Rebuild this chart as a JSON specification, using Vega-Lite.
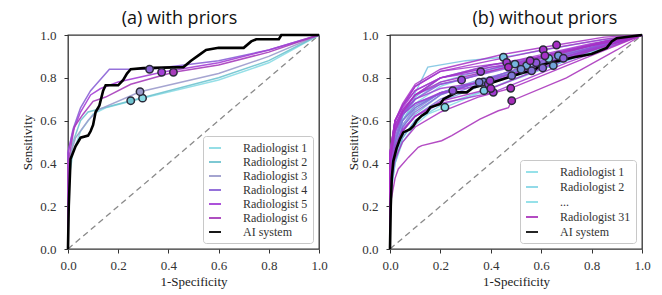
{
"$schema": "https://vega.github.io/schema/vega-lite/v6.json",
"background": "white",
"padding": {"left": 21, "top": 9, "right": 5, "bottom": 5},
"config": {
 "view": {"stroke": "#333", "strokeWidth": 1.3},
 "axis": {"grid": false, "domain": false, "tickColor": "#333", "tickSize": 4, "tickWidth": 1, "labelFont": "Liberation Serif", "labelFontSize": 13, "labelColor": "#333", "labelFlush": false, "labelOverlap": false, "titleFont": "Liberation Serif", "titleFontSize": 13, "titleFontWeight": "normal", "titleColor": "#222"},
 "axisX": {"labelPadding": 6, "titlePadding": 3},
 "axisY": {"labelPadding": 8},
 "title": {"font": "Open Sans", "fontSize": 18, "fontWeight": "normal", "color": "#111", "offset": 1}
},
"datasets": {
 "diag": [{"x":0,"y":0},{"x":1,"y":1}],
 "ca": [
  {"s":"Radiologist 1","x":0,"y":0},{"s":"Radiologist 1","x":0,"y":0.3},{"s":"Radiologist 1","x":0.02,"y":0.45},{"s":"Radiologist 1","x":0.05,"y":0.55},{"s":"Radiologist 1","x":0.1,"y":0.63},{"s":"Radiologist 1","x":0.15,"y":0.66},{"s":"Radiologist 1","x":0.3,"y":0.705},{"s":"Radiologist 1","x":0.6,"y":0.79},{"s":"Radiologist 1","x":0.8,"y":0.87},{"s":"Radiologist 1","x":1,"y":1},
  {"s":"Radiologist 2","x":0,"y":0},{"s":"Radiologist 2","x":0,"y":0.35},{"s":"Radiologist 2","x":0.02,"y":0.5},{"s":"Radiologist 2","x":0.05,"y":0.6},{"s":"Radiologist 2","x":0.08,"y":0.64},{"s":"Radiologist 2","x":0.25,"y":0.693},{"s":"Radiologist 2","x":0.6,"y":0.8},{"s":"Radiologist 2","x":0.8,"y":0.88},{"s":"Radiologist 2","x":1,"y":1},
  {"s":"Radiologist 3","x":0,"y":0},{"s":"Radiologist 3","x":0,"y":0.4},{"s":"Radiologist 3","x":0.03,"y":0.52},{"s":"Radiologist 3","x":0.08,"y":0.6},{"s":"Radiologist 3","x":0.12,"y":0.65},{"s":"Radiologist 3","x":0.287,"y":0.735},{"s":"Radiologist 3","x":0.6,"y":0.82},{"s":"Radiologist 3","x":0.8,"y":0.9},{"s":"Radiologist 3","x":1,"y":1},
  {"s":"Radiologist 4","x":0,"y":0},{"s":"Radiologist 4","x":0,"y":0.45},{"s":"Radiologist 4","x":0.02,"y":0.56},{"s":"Radiologist 4","x":0.05,"y":0.66},{"s":"Radiologist 4","x":0.09,"y":0.74},{"s":"Radiologist 4","x":0.165,"y":0.84},{"s":"Radiologist 4","x":0.325,"y":0.84},{"s":"Radiologist 4","x":0.6,"y":0.88},{"s":"Radiologist 4","x":0.8,"y":0.93},{"s":"Radiologist 4","x":1,"y":1},
  {"s":"Radiologist 5","x":0,"y":0},{"s":"Radiologist 5","x":0,"y":0.45},{"s":"Radiologist 5","x":0.02,"y":0.55},{"s":"Radiologist 5","x":0.05,"y":0.64},{"s":"Radiologist 5","x":0.09,"y":0.72},{"s":"Radiologist 5","x":0.13,"y":0.75},{"s":"Radiologist 5","x":0.2,"y":0.78},{"s":"Radiologist 5","x":0.373,"y":0.826},{"s":"Radiologist 5","x":0.6,"y":0.87},{"s":"Radiologist 5","x":0.8,"y":0.93},{"s":"Radiologist 5","x":1,"y":1},
  {"s":"Radiologist 6","x":0,"y":0},{"s":"Radiologist 6","x":0,"y":0.4},{"s":"Radiologist 6","x":0.025,"y":0.57},{"s":"Radiologist 6","x":0.06,"y":0.63},{"s":"Radiologist 6","x":0.1,"y":0.69},{"s":"Radiologist 6","x":0.15,"y":0.71},{"s":"Radiologist 6","x":0.25,"y":0.77},{"s":"Radiologist 6","x":0.42,"y":0.826},{"s":"Radiologist 6","x":0.6,"y":0.86},{"s":"Radiologist 6","x":0.8,"y":0.92},{"s":"Radiologist 6","x":1,"y":1},
  {"s":"AI system","x":0,"y":0},{"s":"AI system","x":0.003,"y":0.2},{"s":"AI system","x":0.01,"y":0.42},{"s":"AI system","x":0.02,"y":0.45},{"s":"AI system","x":0.03,"y":0.48},{"s":"AI system","x":0.05,"y":0.52},{"s":"AI system","x":0.08,"y":0.53},{"s":"AI system","x":0.09,"y":0.55},{"s":"AI system","x":0.1,"y":0.58},{"s":"AI system","x":0.11,"y":0.64},{"s":"AI system","x":0.125,"y":0.67},{"s":"AI system","x":0.14,"y":0.74},{"s":"AI system","x":0.15,"y":0.765},{"s":"AI system","x":0.2,"y":0.765},{"s":"AI system","x":0.22,"y":0.79},{"s":"AI system","x":0.235,"y":0.82},{"s":"AI system","x":0.25,"y":0.84},{"s":"AI system","x":0.3,"y":0.845},{"s":"AI system","x":0.46,"y":0.85},{"s":"AI system","x":0.49,"y":0.88},{"s":"AI system","x":0.52,"y":0.905},{"s":"AI system","x":0.55,"y":0.93},{"s":"AI system","x":0.6,"y":0.94},{"s":"AI system","x":0.7,"y":0.94},{"s":"AI system","x":0.73,"y":0.97},{"s":"AI system","x":0.75,"y":0.98},{"s":"AI system","x":0.84,"y":0.98},{"s":"AI system","x":0.85,"y":1},{"s":"AI system","x":1,"y":1}
 ],
 "pa": [
  {"s":"Radiologist 1","x":0.297,"y":0.705},{"s":"Radiologist 2","x":0.25,"y":0.693},{"s":"Radiologist 3","x":0.287,"y":0.735},{"s":"Radiologist 4","x":0.325,"y":0.84},{"s":"Radiologist 5","x":0.373,"y":0.826},{"s":"Radiologist 6","x":0.42,"y":0.826}
 ],
 "cb": [
  {"s":"Radiologist 1","x":0,"y":0},{"s":"Radiologist 1","x":0,"y":0.22},{"s":"Radiologist 1","x":0.02,"y":0.4},{"s":"Radiologist 1","x":0.05,"y":0.5},{"s":"Radiologist 1","x":0.1,"y":0.58},{"s":"Radiologist 1","x":0.15,"y":0.63},{"s":"Radiologist 1","x":0.218,"y":0.662},{"s":"Radiologist 1","x":0.5,"y":0.8},{"s":"Radiologist 1","x":0.8,"y":0.92},{"s":"Radiologist 1","x":1,"y":1},
  {"s":"Radiologist 2","x":0,"y":0},{"s":"Radiologist 2","x":0,"y":0.3},{"s":"Radiologist 2","x":0.02,"y":0.5},{"s":"Radiologist 2","x":0.05,"y":0.6},{"s":"Radiologist 2","x":0.1,"y":0.68},{"s":"Radiologist 2","x":0.2,"y":0.76},{"s":"Radiologist 2","x":0.4,"y":0.84},{"s":"Radiologist 2","x":0.63,"y":0.89},{"s":"Radiologist 2","x":0.85,"y":0.96},{"s":"Radiologist 2","x":1,"y":1},
  {"s":"Radiologist 3","x":0,"y":0},{"s":"Radiologist 3","x":0,"y":0.28},{"s":"Radiologist 3","x":0.02,"y":0.42},{"s":"Radiologist 3","x":0.05,"y":0.52},{"s":"Radiologist 3","x":0.1,"y":0.6},{"s":"Radiologist 3","x":0.2,"y":0.67},{"s":"Radiologist 3","x":0.373,"y":0.74},{"s":"Radiologist 3","x":0.7,"y":0.88},{"s":"Radiologist 3","x":1,"y":1},
  {"s":"Radiologist 4","x":0,"y":0},{"s":"Radiologist 4","x":0,"y":0.35},{"s":"Radiologist 4","x":0.02,"y":0.5},{"s":"Radiologist 4","x":0.05,"y":0.62},{"s":"Radiologist 4","x":0.1,"y":0.73},{"s":"Radiologist 4","x":0.15,"y":0.85},{"s":"Radiologist 4","x":0.3,"y":0.88},{"s":"Radiologist 4","x":0.45,"y":0.896},{"s":"Radiologist 4","x":0.8,"y":0.97},{"s":"Radiologist 4","x":1,"y":1},
  {"s":"Radiologist 5","x":0,"y":0},{"s":"Radiologist 5","x":0,"y":0.3},{"s":"Radiologist 5","x":0.02,"y":0.48},{"s":"Radiologist 5","x":0.05,"y":0.6},{"s":"Radiologist 5","x":0.1,"y":0.7},{"s":"Radiologist 5","x":0.2,"y":0.78},{"s":"Radiologist 5","x":0.35,"y":0.83},{"s":"Radiologist 5","x":0.496,"y":0.864},{"s":"Radiologist 5","x":0.8,"y":0.95},{"s":"Radiologist 5","x":1,"y":1},
  {"s":"Radiologist 6","x":0,"y":0},{"s":"Radiologist 6","x":0,"y":0.26},{"s":"Radiologist 6","x":0.02,"y":0.43},{"s":"Radiologist 6","x":0.05,"y":0.55},{"s":"Radiologist 6","x":0.1,"y":0.63},{"s":"Radiologist 6","x":0.2,"y":0.72},{"s":"Radiologist 6","x":0.4,"y":0.8},{"s":"Radiologist 6","x":0.542,"y":0.857},{"s":"Radiologist 6","x":0.8,"y":0.94},{"s":"Radiologist 6","x":1,"y":1},
  {"s":"Radiologist 7","x":0,"y":0},{"s":"Radiologist 7","x":0,"y":0.24},{"s":"Radiologist 7","x":0.02,"y":0.4},{"s":"Radiologist 7","x":0.05,"y":0.52},{"s":"Radiologist 7","x":0.1,"y":0.6},{"s":"Radiologist 7","x":0.2,"y":0.69},{"s":"Radiologist 7","x":0.4,"y":0.78},{"s":"Radiologist 7","x":0.648,"y":0.857},{"s":"Radiologist 7","x":0.85,"y":0.95},{"s":"Radiologist 7","x":1,"y":1},
  {"s":"Radiologist 8","x":0,"y":0},{"s":"Radiologist 8","x":0,"y":0.3},{"s":"Radiologist 8","x":0.02,"y":0.5},{"s":"Radiologist 8","x":0.05,"y":0.62},{"s":"Radiologist 8","x":0.1,"y":0.71},{"s":"Radiologist 8","x":0.2,"y":0.8},{"s":"Radiologist 8","x":0.4,"y":0.86},{"s":"Radiologist 8","x":0.668,"y":0.903},{"s":"Radiologist 8","x":0.85,"y":0.97},{"s":"Radiologist 8","x":1,"y":1},
  {"s":"Radiologist 9","x":0,"y":0},{"s":"Radiologist 9","x":0,"y":0.3},{"s":"Radiologist 9","x":0.02,"y":0.46},{"s":"Radiologist 9","x":0.05,"y":0.57},{"s":"Radiologist 9","x":0.1,"y":0.65},{"s":"Radiologist 9","x":0.2,"y":0.73},{"s":"Radiologist 9","x":0.35,"y":0.79},{"s":"Radiologist 9","x":0.52,"y":0.84},{"s":"Radiologist 9","x":0.8,"y":0.94},{"s":"Radiologist 9","x":1,"y":1},
  {"s":"Radiologist 10","x":0,"y":0},{"s":"Radiologist 10","x":0,"y":0.3},{"s":"Radiologist 10","x":0.02,"y":0.47},{"s":"Radiologist 10","x":0.05,"y":0.58},{"s":"Radiologist 10","x":0.1,"y":0.66},{"s":"Radiologist 10","x":0.2,"y":0.73},{"s":"Radiologist 10","x":0.37,"y":0.78},{"s":"Radiologist 10","x":0.7,"y":0.9},{"s":"Radiologist 10","x":1,"y":1},
  {"s":"Radiologist 11","x":0,"y":0},{"s":"Radiologist 11","x":0,"y":0.33},{"s":"Radiologist 11","x":0.02,"y":0.5},{"s":"Radiologist 11","x":0.05,"y":0.6},{"s":"Radiologist 11","x":0.1,"y":0.67},{"s":"Radiologist 11","x":0.2,"y":0.73},{"s":"Radiologist 11","x":0.354,"y":0.779},{"s":"Radiologist 11","x":0.7,"y":0.9},{"s":"Radiologist 11","x":1,"y":1},
  {"s":"Radiologist 12","x":0,"y":0},{"s":"Radiologist 12","x":0,"y":0.3},{"s":"Radiologist 12","x":0.02,"y":0.45},{"s":"Radiologist 12","x":0.05,"y":0.55},{"s":"Radiologist 12","x":0.1,"y":0.62},{"s":"Radiologist 12","x":0.2,"y":0.7},{"s":"Radiologist 12","x":0.35,"y":0.77},{"s":"Radiologist 12","x":0.483,"y":0.81},{"s":"Radiologist 12","x":0.8,"y":0.93},{"s":"Radiologist 12","x":1,"y":1},
  {"s":"Radiologist 13","x":0,"y":0},{"s":"Radiologist 13","x":0,"y":0.32},{"s":"Radiologist 13","x":0.02,"y":0.5},{"s":"Radiologist 13","x":0.05,"y":0.6},{"s":"Radiologist 13","x":0.1,"y":0.66},{"s":"Radiologist 13","x":0.2,"y":0.73},{"s":"Radiologist 13","x":0.4,"y":0.8},{"s":"Radiologist 13","x":0.562,"y":0.833},{"s":"Radiologist 13","x":0.85,"y":0.95},{"s":"Radiologist 13","x":1,"y":1},
  {"s":"Radiologist 14","x":0,"y":0},{"s":"Radiologist 14","x":0,"y":0.3},{"s":"Radiologist 14","x":0.02,"y":0.46},{"s":"Radiologist 14","x":0.05,"y":0.57},{"s":"Radiologist 14","x":0.1,"y":0.64},{"s":"Radiologist 14","x":0.2,"y":0.72},{"s":"Radiologist 14","x":0.4,"y":0.8},{"s":"Radiologist 14","x":0.606,"y":0.846},{"s":"Radiologist 14","x":0.85,"y":0.95},{"s":"Radiologist 14","x":1,"y":1},
  {"s":"Radiologist 15","x":0,"y":0},{"s":"Radiologist 15","x":0,"y":0.35},{"s":"Radiologist 15","x":0.02,"y":0.52},{"s":"Radiologist 15","x":0.05,"y":0.63},{"s":"Radiologist 15","x":0.1,"y":0.7},{"s":"Radiologist 15","x":0.2,"y":0.77},{"s":"Radiologist 15","x":0.45,"y":0.84},{"s":"Radiologist 15","x":0.688,"y":0.891},{"s":"Radiologist 15","x":0.85,"y":0.96},{"s":"Radiologist 15","x":1,"y":1},
  {"s":"Radiologist 16","x":0,"y":0},{"s":"Radiologist 16","x":0,"y":0.38},{"s":"Radiologist 16","x":0.02,"y":0.54},{"s":"Radiologist 16","x":0.05,"y":0.64},{"s":"Radiologist 16","x":0.1,"y":0.72},{"s":"Radiologist 16","x":0.2,"y":0.8},{"s":"Radiologist 16","x":0.4,"y":0.85},{"s":"Radiologist 16","x":0.58,"y":0.87},{"s":"Radiologist 16","x":0.85,"y":0.96},{"s":"Radiologist 16","x":1,"y":1},
  {"s":"Radiologist 17","x":0,"y":0},{"s":"Radiologist 17","x":0,"y":0.4},{"s":"Radiologist 17","x":0.02,"y":0.55},{"s":"Radiologist 17","x":0.05,"y":0.63},{"s":"Radiologist 17","x":0.1,"y":0.68},{"s":"Radiologist 17","x":0.2,"y":0.725},{"s":"Radiologist 17","x":0.249,"y":0.74},{"s":"Radiologist 17","x":0.6,"y":0.88},{"s":"Radiologist 17","x":1,"y":1},
  {"s":"Radiologist 18","x":0,"y":0},{"s":"Radiologist 18","x":0,"y":0.42},{"s":"Radiologist 18","x":0.02,"y":0.58},{"s":"Radiologist 18","x":0.05,"y":0.65},{"s":"Radiologist 18","x":0.1,"y":0.72},{"s":"Radiologist 18","x":0.2,"y":0.77},{"s":"Radiologist 18","x":0.284,"y":0.79},{"s":"Radiologist 18","x":0.6,"y":0.9},{"s":"Radiologist 18","x":1,"y":1},
  {"s":"Radiologist 19","x":0,"y":0},{"s":"Radiologist 19","x":0,"y":0.45},{"s":"Radiologist 19","x":0.02,"y":0.6},{"s":"Radiologist 19","x":0.05,"y":0.67},{"s":"Radiologist 19","x":0.1,"y":0.74},{"s":"Radiologist 19","x":0.2,"y":0.8},{"s":"Radiologist 19","x":0.36,"y":0.829},{"s":"Radiologist 19","x":0.7,"y":0.93},{"s":"Radiologist 19","x":1,"y":1},
  {"s":"Radiologist 20","x":0,"y":0},{"s":"Radiologist 20","x":0,"y":0.4},{"s":"Radiologist 20","x":0.02,"y":0.55},{"s":"Radiologist 20","x":0.05,"y":0.63},{"s":"Radiologist 20","x":0.1,"y":0.68},{"s":"Radiologist 20","x":0.2,"y":0.73},{"s":"Radiologist 20","x":0.39,"y":0.771},{"s":"Radiologist 20","x":0.7,"y":0.9},{"s":"Radiologist 20","x":1,"y":1},
  {"s":"Radiologist 21","x":0,"y":0},{"s":"Radiologist 21","x":0,"y":0.42},{"s":"Radiologist 21","x":0.02,"y":0.57},{"s":"Radiologist 21","x":0.05,"y":0.64},{"s":"Radiologist 21","x":0.1,"y":0.7},{"s":"Radiologist 21","x":0.2,"y":0.75},{"s":"Radiologist 21","x":0.397,"y":0.786},{"s":"Radiologist 21","x":0.7,"y":0.9},{"s":"Radiologist 21","x":1,"y":1},
  {"s":"Radiologist 22","x":0,"y":0},{"s":"Radiologist 22","x":0,"y":0.35},{"s":"Radiologist 22","x":0.02,"y":0.48},{"s":"Radiologist 22","x":0.05,"y":0.56},{"s":"Radiologist 22","x":0.1,"y":0.62},{"s":"Radiologist 22","x":0.2,"y":0.68},{"s":"Radiologist 22","x":0.41,"y":0.732},{"s":"Radiologist 22","x":0.7,"y":0.87},{"s":"Radiologist 22","x":1,"y":1},
  {"s":"Radiologist 23","x":0,"y":0},{"s":"Radiologist 23","x":0,"y":0.45},{"s":"Radiologist 23","x":0.02,"y":0.6},{"s":"Radiologist 23","x":0.05,"y":0.67},{"s":"Radiologist 23","x":0.1,"y":0.76},{"s":"Radiologist 23","x":0.2,"y":0.83},{"s":"Radiologist 23","x":0.463,"y":0.872},{"s":"Radiologist 23","x":0.8,"y":0.96},{"s":"Radiologist 23","x":1,"y":1},
  {"s":"Radiologist 24","x":0,"y":0},{"s":"Radiologist 24","x":0,"y":0.44},{"s":"Radiologist 24","x":0.02,"y":0.6},{"s":"Radiologist 24","x":0.05,"y":0.66},{"s":"Radiologist 24","x":0.1,"y":0.74},{"s":"Radiologist 24","x":0.2,"y":0.8},{"s":"Radiologist 24","x":0.4,"y":0.85},{"s":"Radiologist 24","x":0.556,"y":0.88},{"s":"Radiologist 24","x":0.85,"y":0.97},{"s":"Radiologist 24","x":1,"y":1},
  {"s":"Radiologist 25","x":0,"y":0},{"s":"Radiologist 25","x":0,"y":0.45},{"s":"Radiologist 25","x":0.02,"y":0.6},{"s":"Radiologist 25","x":0.05,"y":0.67},{"s":"Radiologist 25","x":0.1,"y":0.76},{"s":"Radiologist 25","x":0.2,"y":0.83},{"s":"Radiologist 25","x":0.4,"y":0.88},{"s":"Radiologist 25","x":0.608,"y":0.931},{"s":"Radiologist 25","x":0.85,"y":0.98},{"s":"Radiologist 25","x":1,"y":1},
  {"s":"Radiologist 26","x":0,"y":0},{"s":"Radiologist 26","x":0,"y":0.4},{"s":"Radiologist 26","x":0.02,"y":0.58},{"s":"Radiologist 26","x":0.05,"y":0.65},{"s":"Radiologist 26","x":0.1,"y":0.72},{"s":"Radiologist 26","x":0.2,"y":0.8},{"s":"Radiologist 26","x":0.4,"y":0.86},{"s":"Radiologist 26","x":0.615,"y":0.903},{"s":"Radiologist 26","x":0.85,"y":0.97},{"s":"Radiologist 26","x":1,"y":1},
  {"s":"Radiologist 27","x":0,"y":0},{"s":"Radiologist 27","x":0,"y":0.45},{"s":"Radiologist 27","x":0.02,"y":0.6},{"s":"Radiologist 27","x":0.05,"y":0.68},{"s":"Radiologist 27","x":0.1,"y":0.77},{"s":"Radiologist 27","x":0.2,"y":0.84},{"s":"Radiologist 27","x":0.45,"y":0.91},{"s":"Radiologist 27","x":0.661,"y":0.953},{"s":"Radiologist 27","x":0.85,"y":0.99},{"s":"Radiologist 27","x":1,"y":1},
  {"s":"Radiologist 28","x":0,"y":0},{"s":"Radiologist 28","x":0,"y":0.3},{"s":"Radiologist 28","x":0.02,"y":0.45},{"s":"Radiologist 28","x":0.05,"y":0.55},{"s":"Radiologist 28","x":0.1,"y":0.62},{"s":"Radiologist 28","x":0.2,"y":0.69},{"s":"Radiologist 28","x":0.4,"y":0.75},{"s":"Radiologist 28","x":0.7,"y":0.89},{"s":"Radiologist 28","x":1,"y":1},
  {"s":"Radiologist 29","x":0,"y":0},{"s":"Radiologist 29","x":0,"y":0.4},{"s":"Radiologist 29","x":0.02,"y":0.56},{"s":"Radiologist 29","x":0.05,"y":0.64},{"s":"Radiologist 29","x":0.1,"y":0.72},{"s":"Radiologist 29","x":0.2,"y":0.78},{"s":"Radiologist 29","x":0.35,"y":0.82},{"s":"Radiologist 29","x":0.47,"y":0.85},{"s":"Radiologist 29","x":0.8,"y":0.95},{"s":"Radiologist 29","x":1,"y":1},
  {"s":"Radiologist 30","x":0,"y":0},{"s":"Radiologist 30","x":0,"y":0.3},{"s":"Radiologist 30","x":0.02,"y":0.42},{"s":"Radiologist 30","x":0.05,"y":0.5},{"s":"Radiologist 30","x":0.1,"y":0.57},{"s":"Radiologist 30","x":0.2,"y":0.64},{"s":"Radiologist 30","x":0.35,"y":0.71},{"s":"Radiologist 30","x":0.479,"y":0.751},{"s":"Radiologist 30","x":0.75,"y":0.88},{"s":"Radiologist 30","x":1,"y":1},
  {"s":"Radiologist 31","x":0,"y":0},{"s":"Radiologist 31","x":0,"y":0.2},{"s":"Radiologist 31","x":0.02,"y":0.33},{"s":"Radiologist 31","x":0.033,"y":0.374},{"s":"Radiologist 31","x":0.073,"y":0.428},{"s":"Radiologist 31","x":0.112,"y":0.475},{"s":"Radiologist 31","x":0.126,"y":0.483},{"s":"Radiologist 31","x":0.205,"y":0.506},{"s":"Radiologist 31","x":0.245,"y":0.53},{"s":"Radiologist 31","x":0.357,"y":0.607},{"s":"Radiologist 31","x":0.43,"y":0.646},{"s":"Radiologist 31","x":0.47,"y":0.66},{"s":"Radiologist 31","x":0.483,"y":0.693},{"s":"Radiologist 31","x":0.7,"y":0.8},{"s":"Radiologist 31","x":0.9,"y":0.93},{"s":"Radiologist 31","x":1,"y":1},
  {"s":"AI system","x":0,"y":0},{"s":"AI system","x":0.003,"y":0.2},{"s":"AI system","x":0.007,"y":0.33},{"s":"AI system","x":0.013,"y":0.41},{"s":"AI system","x":0.026,"y":0.47},{"s":"AI system","x":0.04,"y":0.515},{"s":"AI system","x":0.053,"y":0.545},{"s":"AI system","x":0.08,"y":0.56},{"s":"AI system","x":0.093,"y":0.575},{"s":"AI system","x":0.106,"y":0.6},{"s":"AI system","x":0.126,"y":0.623},{"s":"AI system","x":0.146,"y":0.638},{"s":"AI system","x":0.16,"y":0.662},{"s":"AI system","x":0.2,"y":0.678},{"s":"AI system","x":0.212,"y":0.7},{"s":"AI system","x":0.238,"y":0.716},{"s":"AI system","x":0.265,"y":0.732},{"s":"AI system","x":0.305,"y":0.732},{"s":"AI system","x":0.33,"y":0.755},{"s":"AI system","x":0.385,"y":0.771},{"s":"AI system","x":0.41,"y":0.779},{"s":"AI system","x":0.45,"y":0.794},{"s":"AI system","x":0.49,"y":0.81},{"s":"AI system","x":0.53,"y":0.825},{"s":"AI system","x":0.57,"y":0.833},{"s":"AI system","x":0.595,"y":0.857},{"s":"AI system","x":0.635,"y":0.872},{"s":"AI system","x":0.675,"y":0.88},{"s":"AI system","x":0.73,"y":0.896},{"s":"AI system","x":0.8,"y":0.911},{"s":"AI system","x":0.86,"y":0.94},{"s":"AI system","x":0.88,"y":0.97},{"s":"AI system","x":0.9,"y":0.985},{"s":"AI system","x":1,"y":1}
 ],
 "pb": [
  {"s":"Radiologist 1","x":0.218,"y":0.662},{"s":"Radiologist 2","x":0.63,"y":0.89},{"s":"Radiologist 3","x":0.373,"y":0.74},{"s":"Radiologist 4","x":0.45,"y":0.896},{"s":"Radiologist 5","x":0.496,"y":0.864},{"s":"Radiologist 6","x":0.542,"y":0.857},{"s":"Radiologist 7","x":0.648,"y":0.857},{"s":"Radiologist 8","x":0.668,"y":0.903},{"s":"Radiologist 9","x":0.52,"y":0.84},{"s":"Radiologist 10","x":0.37,"y":0.78},{"s":"Radiologist 11","x":0.354,"y":0.779},{"s":"Radiologist 12","x":0.483,"y":0.81},{"s":"Radiologist 13","x":0.562,"y":0.833},{"s":"Radiologist 14","x":0.606,"y":0.846},{"s":"Radiologist 15","x":0.688,"y":0.891},{"s":"Radiologist 16","x":0.58,"y":0.87},{"s":"Radiologist 17","x":0.249,"y":0.74},{"s":"Radiologist 18","x":0.284,"y":0.79},{"s":"Radiologist 19","x":0.36,"y":0.829},{"s":"Radiologist 20","x":0.39,"y":0.771},{"s":"Radiologist 21","x":0.397,"y":0.786},{"s":"Radiologist 22","x":0.41,"y":0.732},{"s":"Radiologist 23","x":0.463,"y":0.872},{"s":"Radiologist 24","x":0.556,"y":0.88},{"s":"Radiologist 25","x":0.608,"y":0.931},{"s":"Radiologist 26","x":0.615,"y":0.903},{"s":"Radiologist 27","x":0.661,"y":0.953},{"s":"Radiologist 28","x":0.4,"y":0.75},{"s":"Radiologist 29","x":0.47,"y":0.85},{"s":"Radiologist 30","x":0.479,"y":0.751},{"s":"Radiologist 31","x":0.483,"y":0.693}
 ]
},
"bounds": "flush",
"spacing": 71,
"resolve": {"scale": {"color": "independent"}, "legend": {"color": "independent"}},
"hconcat": [
 {
  "width": 251, "height": 214,
  "title": {"text": "(a) with priors", "dx": -14},
  "encoding": {
   "x": {"field": "x", "type": "quantitative", "scale": {"domain": [0, 1], "nice": false}, "axis": {"values": [0, 0.2, 0.4, 0.6, 0.8, 1], "format": ".1f", "title": "1-Specificity"}},
   "y": {"field": "y", "type": "quantitative", "scale": {"domain": [0, 1], "nice": false}, "axis": {"values": [0, 0.2, 0.4, 0.6, 0.8, 1], "format": ".1f", "title": "Sensitivity", "titlePadding": 5}}
  },
  "layer": [
   {"data": {"name": "diag"}, "mark": {"type": "line", "color": "#8a8a8a", "strokeDash": [6, 4], "strokeWidth": 1.3}},
   {"data": {"name": "ca"}, "transform": [{"filter": "datum.s !== 'AI system'"}],
    "mark": {"type": "line", "strokeWidth": 1.5, "opacity": 0.9},
    "encoding": {
     "order": [{"field": "x", "type": "quantitative"}, {"field": "y", "type": "quantitative"}],
     "color": {"field": "s", "type": "nominal",
      "scale": {"domain": ["Radiologist 1","Radiologist 2","Radiologist 3","Radiologist 4","Radiologist 5","Radiologist 6","AI system"], "range": ["#8adbe4","#6fc3cf","#9b9bcc","#8a62d6","#a43fd6","#a63cba","#000000"]},
      "legend": {"title": null, "orient": "bottom-right", "offset": 6, "padding": 5, "strokeColor": "#c8c8c8", "cornerRadius": 3, "fillColor": "#ffffff", "symbolType": "stroke", "symbolSize": 144, "symbolStrokeWidth": 2, "labelFont": "Liberation Serif", "labelFontSize": 12, "labelColor": "#333", "labelOffset": 21, "rowPadding": 1,
       "encode": {"symbols": {"update": {"size": {"value": 625}, "x": {"value": 12.5}, "strokeWidth": {"signal": "datum.value === 'AI system' ? 3.5 : 2"}}}}}
     }
    }
   },
   {"data": {"name": "ca"}, "transform": [{"filter": "datum.s === 'AI system'"}],
    "mark": {"type": "line", "strokeWidth": 2.6},
    "encoding": {
     "order": [{"field": "x", "type": "quantitative"}, {"field": "y", "type": "quantitative"}],
     "color": {"field": "s", "type": "nominal",
      "scale": {"domain": ["Radiologist 1","Radiologist 2","Radiologist 3","Radiologist 4","Radiologist 5","Radiologist 6","AI system"], "range": ["#8adbe4","#6fc3cf","#9b9bcc","#8a62d6","#a43fd6","#a63cba","#000000"]}}
    }
   },
   {"data": {"name": "pa"},
    "mark": {"type": "point", "shape": "circle", "filled": true, "size": 55, "opacity": 1, "stroke": "#2a2a3a", "strokeWidth": 1.5},
    "encoding": {
     "color": {"field": "s", "type": "nominal",
      "scale": {"domain": ["Radiologist 1","Radiologist 2","Radiologist 3","Radiologist 4","Radiologist 5","Radiologist 6","AI system"], "range": ["#8adbe4","#6fc3cf","#9b9bcc","#8a62d6","#a43fd6","#a63cba","#000000"]}}
    }
   }
  ]
 },
 {
  "width": 252, "height": 214,
  "title": {"text": "(b) without priors", "dx": 29},
  "encoding": {
   "x": {"field": "x", "type": "quantitative", "scale": {"domain": [0, 1], "nice": false}, "axis": {"values": [0, 0.2, 0.4, 0.6, 0.8, 1], "format": ".1f", "title": "1-Specificity"}},
   "y": {"field": "y", "type": "quantitative", "scale": {"domain": [0, 1], "nice": false}, "axis": {"values": [0, 0.2, 0.4, 0.6, 0.8, 1], "format": ".1f", "title": "Sensitivity", "titlePadding": 1}}
  },
  "layer": [
   {"data": {"name": "diag"}, "mark": {"type": "line", "color": "#8a8a8a", "strokeDash": [6, 4], "strokeWidth": 1.3}},
   {"data": {"name": "cb"}, "transform": [{"filter": "datum.s !== 'AI system'"}],
    "mark": {"type": "line", "strokeWidth": 1.4, "opacity": 0.85},
    "encoding": {
     "order": [{"field": "x", "type": "quantitative"}, {"field": "y", "type": "quantitative"}],
     "color": {"field": "s", "type": "nominal",
      "scale": {"domain": ["Radiologist 1","Radiologist 2","...","Radiologist 3","Radiologist 4","Radiologist 5","Radiologist 6","Radiologist 7","Radiologist 8","Radiologist 9","Radiologist 10","Radiologist 11","Radiologist 12","Radiologist 13","Radiologist 14","Radiologist 15","Radiologist 16","Radiologist 17","Radiologist 18","Radiologist 19","Radiologist 20","Radiologist 21","Radiologist 22","Radiologist 23","Radiologist 24","Radiologist 25","Radiologist 26","Radiologist 27","Radiologist 28","Radiologist 29","Radiologist 30","Radiologist 31","AI system"],
       "range": ["#84dce6","#80d4e4","#84dce6","#7ccce2","#78c2e0","#76b8de","#74aedc","#72a4da","#729ad8","#7490d8","#7688d8","#7a80d8","#7e78d8","#8270d8","#8668d8","#8a60d8","#8e58d8","#9250d8","#964ad8","#9a44d6","#9c40d4","#9e3cd2","#a03ad0","#a238ce","#a436cc","#a534ca","#a632c8","#a730c6","#a82ec4","#a82dc2","#a82cc0","#a62cb8","#000000"]},
      "legend": {"title": null, "values": ["Radiologist 1","Radiologist 2","...","Radiologist 31","AI system"], "orient": "bottom-right", "offset": 6, "padding": 5, "strokeColor": "#c8c8c8", "cornerRadius": 3, "fillColor": "#ffffff", "symbolType": "stroke", "symbolSize": 144, "symbolStrokeWidth": 2, "labelFont": "Liberation Serif", "labelFontSize": 12, "labelColor": "#333", "labelOffset": 21, "rowPadding": 2,
       "encode": {"symbols": {"update": {"size": {"value": 625}, "x": {"value": 12.5}, "strokeWidth": {"signal": "datum.value === 'AI system' ? 3.5 : 2"}}}}}
     }
    }
   },
   {"data": {"name": "cb"}, "transform": [{"filter": "datum.s === 'AI system'"}],
    "mark": {"type": "line", "strokeWidth": 2.6},
    "encoding": {
     "order": [{"field": "x", "type": "quantitative"}, {"field": "y", "type": "quantitative"}],
     "color": {"field": "s", "type": "nominal",
      "scale": {"domain": ["Radiologist 1","Radiologist 2","...","Radiologist 3","Radiologist 4","Radiologist 5","Radiologist 6","Radiologist 7","Radiologist 8","Radiologist 9","Radiologist 10","Radiologist 11","Radiologist 12","Radiologist 13","Radiologist 14","Radiologist 15","Radiologist 16","Radiologist 17","Radiologist 18","Radiologist 19","Radiologist 20","Radiologist 21","Radiologist 22","Radiologist 23","Radiologist 24","Radiologist 25","Radiologist 26","Radiologist 27","Radiologist 28","Radiologist 29","Radiologist 30","Radiologist 31","AI system"],
       "range": ["#84dce6","#80d4e4","#84dce6","#7ccce2","#78c2e0","#76b8de","#74aedc","#72a4da","#729ad8","#7490d8","#7688d8","#7a80d8","#7e78d8","#8270d8","#8668d8","#8a60d8","#8e58d8","#9250d8","#964ad8","#9a44d6","#9c40d4","#9e3cd2","#a03ad0","#a238ce","#a436cc","#a534ca","#a632c8","#a730c6","#a82ec4","#a82dc2","#a82cc0","#a62cb8","#000000"]}}
    }
   },
   {"data": {"name": "pb"},
    "mark": {"type": "point", "shape": "circle", "filled": true, "size": 55, "opacity": 1, "stroke": "#2a2a3a", "strokeWidth": 1.5},
    "encoding": {
     "color": {"field": "s", "type": "nominal",
      "scale": {"domain": ["Radiologist 1","Radiologist 2","...","Radiologist 3","Radiologist 4","Radiologist 5","Radiologist 6","Radiologist 7","Radiologist 8","Radiologist 9","Radiologist 10","Radiologist 11","Radiologist 12","Radiologist 13","Radiologist 14","Radiologist 15","Radiologist 16","Radiologist 17","Radiologist 18","Radiologist 19","Radiologist 20","Radiologist 21","Radiologist 22","Radiologist 23","Radiologist 24","Radiologist 25","Radiologist 26","Radiologist 27","Radiologist 28","Radiologist 29","Radiologist 30","Radiologist 31","AI system"],
       "range": ["#84dce6","#80d4e4","#84dce6","#7ccce2","#78c2e0","#76b8de","#74aedc","#72a4da","#729ad8","#7490d8","#7688d8","#7a80d8","#7e78d8","#8270d8","#8668d8","#8a60d8","#8e58d8","#9250d8","#964ad8","#9a44d6","#9c40d4","#9e3cd2","#a03ad0","#a238ce","#a436cc","#a534ca","#a632c8","#a730c6","#a82ec4","#a82dc2","#a82cc0","#a62cb8","#000000"]}}
    }
   }
  ]
 }
]
}
